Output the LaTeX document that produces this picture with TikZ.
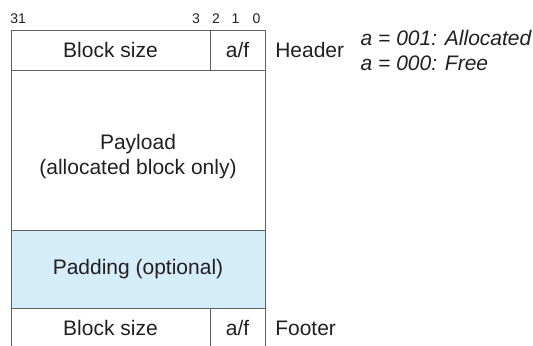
\documentclass[tikz,border=0pt]{standalone}
\usepackage{fontspec}
\setmainfont{Liberation Sans}
\setsansfont{Liberation Sans}
\usepackage{xcolor}
\usepackage{tikz}
\usetikzlibrary{positioning}

\definecolor{rulegray}{RGB}{95,96,98}
\definecolor{inkgray}{RGB}{35,31,32}
\definecolor{padblue}{RGB}{213,236,249}

\begin{document}
\begin{tikzpicture}[
  x=0.75pt, y=-0.75pt,
  font=\sffamily\fontsize{15.75}{18.75}\selectfont, text=inkgray,
  cell/.style={draw=rulegray, line width=0.6pt, inner sep=0pt, outer sep=0pt,
    minimum height=30pt, align=center},
  wide/.style={cell, minimum width=149.25pt},
  flag/.style={cell, minimum width=41.25pt},
  bit/.style={font=\sffamily\fontsize{10.5}{12}\selectfont, inner sep=0pt, anchor=base},
  lbl/.style={inner sep=0pt, anchor=west},
]
  \useasboundingbox (0,0) rectangle (533,346);

  % header word
  \node[wide, anchor=north west] (hsize) at (11,30) {Block size};
  \node[flag, right=0pt of hsize] (haf) {a/f};

  % body of the block
  \node[cell, minimum width=190.5pt, minimum height=120pt,
    below=0pt of hsize.south west, anchor=north west] (payload) {};
  \node[inner sep=0pt, align=center, yshift=-5pt] (payloadtext) at (payload.center)
    {Payload\\(allocated block only)};
  \node[cell, minimum width=190.5pt, minimum height=58.5pt, fill=padblue,
    below=0pt of payload] (padding) {Padding (optional)};

  % footer word
  \node[wide, below=0pt of padding.south west, anchor=north west] (fsize) {Block size};
  \node[flag, right=0pt of fsize] (faf) {a/f};

  % bit positions
  \node[bit, anchor=base west] (bit31) at (10,24) {31};
  \foreach \b/\x in {3/196, 2/216, 1/235.5, 0/256.5}
    \node[bit] (bit\b) at (\x,24) {\b};

  % side labels
  \node[lbl, right=7.5pt of haf] (header) {Header};
  \node[lbl, right=7.5pt of faf] (footer) {Footer};
  \node[lbl, align=left, font=\sffamily\itshape\fontsize{15.75}{18.75}\selectfont,
    right=12pt of header, yshift=-0.5pt] (codes)
    {a = 001: Allocated\\a = 000: Free};
\end{tikzpicture}
\end{document}
